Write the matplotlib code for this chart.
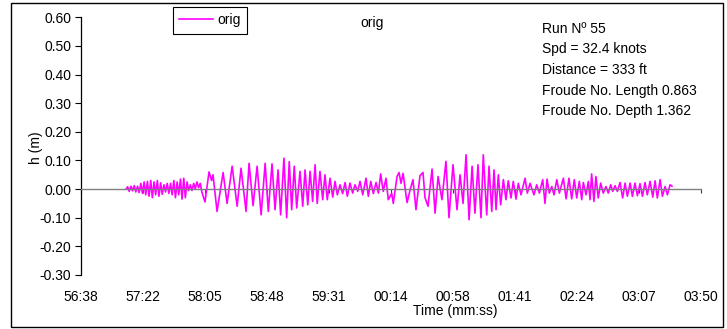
import matplotlib
matplotlib.use('Agg')
import matplotlib.pyplot as plt
from matplotlib.ticker import MultipleLocator, FormatStrFormatter
from matplotlib.patches import Rectangle

plt.rcParams['font.family'] = ['Liberation Sans', 'DejaVu Sans']
plt.rcParams['font.size'] = 10

# time in seconds after the first tick (56:38), wave height in metres
time_s = [
    31.4, 32.5, 33.6, 34.8, 35.9, 37.1, 38.2, 39.4, 40.5, 41.7, 42.8,
    44.0, 45.1, 46.3, 47.4, 48.6, 49.7, 50.9, 52.0, 53.2, 54.3,
    55.5, 56.6, 57.8, 58.9, 60.1, 61.2, 62.4, 63.5, 64.7, 65.8,
    67.0, 68.1, 69.3, 70.4, 71.6, 72.7, 73.9, 75.0, 76.2, 77.3,
    78.5, 79.6, 80.8, 81.9, 83.1, 84.2,
    86.4, 89.2, 91.0, 92.0, 94.8, 99.0, 101.8, 105.3, 108.8, 111.5,
    115.0, 117.1, 119.9, 122.7, 125.5, 128.3, 130.5, 133.1, 135.2, 137.3,
    139.1, 141.4, 143.3, 145.1, 146.8, 148.6, 150.3, 152.6, 154.5, 156.1,
    158.0, 159.6, 161.4, 163.1, 164.6, 166.5, 168.4, 170.0, 171.6, 173.5,
    175.4, 177.0, 178.6, 180.5, 182.3, 184.0, 185.6, 187.4, 189.3, 190.9,
    192.8, 194.4, 196.3, 198.6, 200.2, 201.9, 203.7, 205.6, 207.2, 208.8,
    210.6, 212.5, 214.1, 216.5, 217.6, 220.2, 221.6, 223.0, 224.4, 227.2,
    229.2, 231.3, 233.4, 236.2, 238.3, 239.7, 241.8, 244.6, 246.7, 248.8,
    251.5, 254.3, 256.4, 259.2, 262.0, 264.1, 266.2, 268.3, 270.4, 272.5,
    274.5, 276.6, 278.7, 280.3, 282.7, 284.3, 286.2, 287.8, 289.2, 290.8,
    292.4, 294.3, 296.1, 297.7, 299.6, 301.2, 303.1, 304.7, 306.6, 309.4,
    311.0, 312.9, 315.6, 317.5, 319.4, 321.7, 323.3, 324.7, 326.3, 328.0,
    329.6, 331.5, 333.3, 336.1, 338.0, 340.0, 341.9, 343.7, 345.4, 347.2,
    348.9, 350.0, 351.9, 353.5, 354.7, 355.8, 357.4, 358.8, 360.4, 362.1,
    363.9, 365.8, 367.4, 369.1, 370.5, 372.1, 373.7, 375.6, 377.4, 379.1,
    380.7, 382.6, 384.2, 386.0, 387.7, 389.5, 391.2, 393.0, 394.6, 396.5,
    398.4, 400.0, 401.6, 403.5, 405.1, 407.0, 408.6, 410.4, 411.8,
]
height_m = [
    0.000, 0.008, -0.008, 0.010, -0.006, 0.012, -0.010, 0.010, -0.012, 0.020, -0.015,
    0.025, -0.020, 0.027, -0.025, 0.030, -0.030, 0.025, -0.020, 0.030, -0.025,
    0.022, -0.018, 0.015, -0.010, 0.020, -0.015, 0.020, -0.020, 0.030, -0.030,
    0.025, -0.020, 0.035, -0.035, 0.038, -0.030, 0.025, -0.005, 0.015, -0.005,
    0.020, 0.000, 0.025, 0.005, 0.020, -0.010,
    -0.045, 0.060, 0.030, 0.050, -0.078, 0.058, -0.050, 0.080, -0.060, 0.073,
    -0.078, 0.090, -0.058, 0.080, -0.090, 0.090, -0.078, 0.088, -0.072, 0.067,
    -0.090, 0.108, -0.100, 0.096, -0.072, 0.080, -0.066, 0.062, -0.060, 0.067,
    -0.055, 0.062, -0.043, 0.085, -0.050, 0.062, -0.037, 0.050, -0.037, 0.038,
    -0.028, 0.027, -0.020, 0.015, -0.016, 0.023, -0.025, 0.021, -0.014, 0.015,
    -0.008, 0.027, -0.020, 0.038, -0.025, 0.027, -0.016, 0.023, -0.014, 0.053,
    -0.008, 0.038, -0.037, -0.015, -0.050, 0.044, 0.058, 0.020, 0.055, -0.047,
    -0.005, 0.033, -0.072, 0.047, 0.058, -0.030, -0.060, 0.070, -0.084, 0.044,
    -0.037, 0.097, -0.100, 0.085, -0.072, 0.050, -0.050, 0.120, -0.107, 0.080,
    -0.084, 0.085, -0.100, 0.120, -0.090, 0.080, -0.078, 0.067, -0.072, 0.050,
    -0.055, 0.033, -0.037, 0.029, -0.031, 0.027, -0.035, 0.020, -0.020, 0.038,
    -0.014, 0.020, -0.020, 0.015, -0.014, 0.033, -0.050, 0.035, -0.014, 0.009,
    -0.020, 0.033, -0.014, 0.038, -0.034, 0.038, -0.034, 0.033, -0.031, 0.027,
    -0.037, 0.023, -0.020, 0.027, -0.037, 0.053, -0.043, 0.044, -0.031, 0.021,
    -0.014, 0.009, -0.014, 0.015, -0.008, 0.012, -0.008, 0.023, -0.031, 0.021,
    -0.025, 0.021, -0.025, 0.021, -0.023, 0.019, -0.025, 0.023, -0.020, 0.027,
    -0.028, 0.029, -0.031, 0.033, -0.025, 0.009, -0.020, 0.015, 0.010,
]

tick_s = [0.0, 43.2, 86.4, 129.6, 172.8, 216.0, 259.2, 302.4, 345.6, 388.8, 432.0]
tick_labels = ['56:38', '57:22', '58:05', '58:48', '59:31', '00:14',
               '00:58', '01:41', '02:24', '03:07', '03:50']

info_lines = ['Run N\u00ba 55', 'Spd = 32.4 knots', 'Distance = 333 ft',
              'Froude No. Length 0.863', 'Froude No. Depth 1.362']

W, H = 727.0, 329.0

fig = plt.figure(figsize=(W / 100, H / 100), dpi=100)
ax = fig.add_axes([81 / W, 54 / H, 620 / W, 257.7 / H])

ax.plot(time_s, height_m, color='#FF00FF', lw=1.2, label='orig')

ax.set_xlim(0, 432)
ax.set_ylim(-0.3, 0.6)
ax.yaxis.set_major_locator(MultipleLocator(0.1))
ax.yaxis.set_major_formatter(FormatStrFormatter('%.2f'))

ax.spines['top'].set_visible(False)
ax.spines['right'].set_visible(False)
ax.spines['left'].set_linewidth(0.9)
ax.spines['bottom'].set_position(('data', 0))
ax.spines['bottom'].set_color('#808080')
ax.spines['bottom'].set_linewidth(1.0)

ax.set_xticks(tick_s)
ax.tick_params(axis='x', direction='out', length=3, width=0.8,
               color='#404040', labelbottom=False)
ax.tick_params(axis='y', direction='out', length=4, width=0.8, pad=3)

for t, lab in zip(tick_s, tick_labels):
    ax.text(t, -(297 - 275) / 257.7, lab, transform=ax.get_xaxis_transform(),
            ha='center', va='center')

leg = ax.legend(loc='upper left', bbox_to_anchor=(173 / W, 1 - 7 / H),
                bbox_transform=fig.transFigure, fancybox=False,
                edgecolor='black', framealpha=1, handlelength=2.4,
                handletextpad=0.35, borderpad=0.45, borderaxespad=0)
leg.get_frame().set_linewidth(0.8)

fig.text(372 / W, 1 - 23 / H, 'orig', ha='center', va='center')
for i, line in enumerate(info_lines):
    fig.text(542 / W, 1 - (32.7 + 20.7 * i) / H, line, va='baseline')

fig.text(36 / W, 1 - 148 / H, 'h (m)', rotation=90, ha='center', va='center')
fig.text(455 / W, 1 - 311 / H, 'Time (mm:ss)', ha='center', va='center')

# outer chart border
fig.patches.append(Rectangle((11 / W, 2 / H), 712 / W, 324 / H,
                             transform=fig.transFigure, fill=False,
                             edgecolor='black', lw=1.0))

fig.savefig('out.png', dpi=100)
